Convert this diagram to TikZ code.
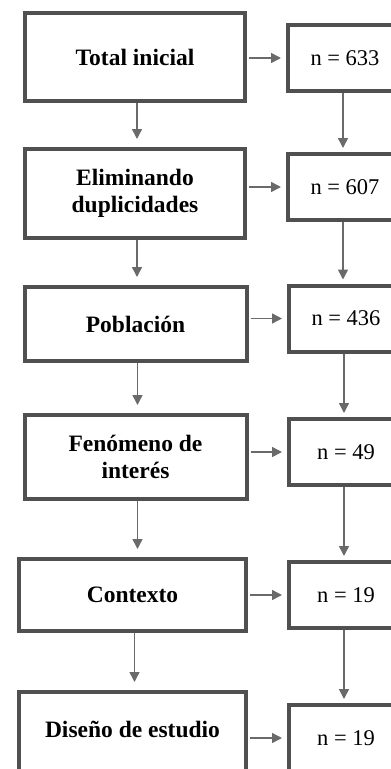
\documentclass[tikz,border=0pt]{standalone}
\usepackage{fontspec}
\setmainfont{Liberation Serif}
\usetikzlibrary{arrows.meta}

\definecolor{borde}{HTML}{505050}
\definecolor{flechagris}{HTML}{6A6A6A}

\tikzset{
  caja/.style={draw=borde, line width=4pt, rectangle, inner sep=0pt,
    align=center, font=\fontsize{23.5}{27}\selectfont\bfseries},
  cajan/.style={caja, minimum width=114pt, minimum height=66pt,
    font=\fontsize{22.5}{27}\selectfont},
  flecha/.style={draw=flechagris, line width=1.5pt,
    -{Triangle[length=10pt,width=10pt]}}
}

\begin{document}
\begin{tikzpicture}[x=1pt, y=-1pt]
    \clip (0,0) rectangle (391,769);

    \node[caja, minimum width=220pt, minimum height=88pt] (total) at (135,57)    {Total inicial};
    \node[caja, minimum width=220pt, minimum height=89pt] (elim)  at (135,193.5) {Eliminando\\duplicidades};
    \node[caja, minimum width=222pt, minimum height=74pt] (pob)   at (135.5,324) {Población};
    \node[caja, minimum width=222pt, minimum height=84pt] (fen)   at (135.5,457) {Fenómeno de\\interés};
    \node[caja, minimum width=227pt, minimum height=72pt] (ctx)   at (132.5,595) {Contexto};
    \node[caja, minimum width=227pt, minimum height=84pt, text depth=0pt] (dis) at (132.5,734) {};
    \node[font=\fontsize{23.5}{27}\selectfont\bfseries] (distxt) at (132.5,729) {Diseño de estudio};

    \node[cajan] (n1) at (345,58)    {n = 633};
    \node[cajan] (n2) at (345,187)   {n = 607};
    \node[cajan] (n3) at (346,318.5) {n = 436};
    \node[cajan] (n4) at (346,452)   {n = 49};
    \node[cajan] (n5) at (346,595)   {n = 19};
    \node[cajan] (n6) at (346,738)   {n = 19};

    % hacia la derecha
    \foreach \izq/\der in {total/n1, elim/n2, pob/n3, fen/n4, ctx/n5, dis/n6}
      \draw[flecha, shorten <=2pt, shorten >=5pt] (\izq.east |- \der) -- (\der.west);

    % hacia abajo
    \foreach \a/\b in {total/elim, elim/pob, pob/fen, fen/ctx, ctx/dis}
      \draw[flecha, shorten >=8pt] ([xshift=2pt]\a.south) -- ([xshift=2pt]\a.south |- \b.north);
    \foreach \a/\b in {n1/n2, n2/n3, n3/n4, n4/n5, n5/n6}
      \draw[flecha, shorten >=4pt] ([xshift=-2pt]\a.south) -- ([xshift=-2pt]\a.south |- \b.north);
\end{tikzpicture}
\end{document}
